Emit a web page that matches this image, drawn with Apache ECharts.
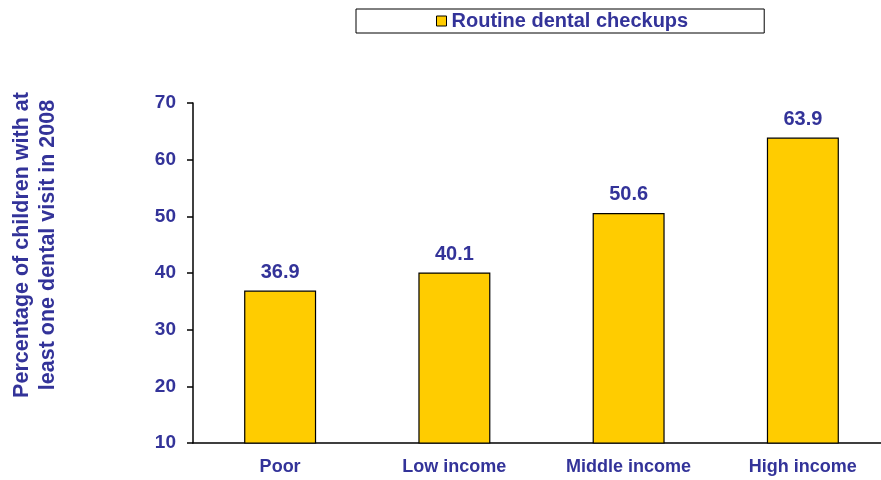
<!DOCTYPE html>
<html><head><meta charset="utf-8">
<script src="https://cdn.jsdelivr.net/npm/echarts@6/dist/echarts.min.js"></script>
<style>html,body{margin:0;padding:0;background:#fff}#c{width:881px;height:480px}</style>
</head><body><div id="c"></div>
<script>
const categories = ['Poor', 'Low income', 'Middle income', 'High income'];
const checkups = [36.9, 40.1, 50.6, 63.9];
const seriesName = 'Routine dental checkups';
const yTitle = 'Percentage of children with at\nleast one dental visit in 2008';
const C = '#333399';
const F = 'Liberation Sans, Arial, sans-serif';
const chart = echarts.init(document.getElementById('c'));
chart.setOption({
  animation: false,
  legend: {
    data: [seriesName], left: 356, top: 9,
    padding: [2, 76, 2, 80], borderColor: '#000', borderWidth: 1,
    itemWidth: 10, itemHeight: 10, itemGap: 5,
    icon: 'rect',
    itemStyle: {borderColor: '#000', borderWidth: 1},
    textStyle: {color: C, fontWeight: 'bold', fontSize: 20, fontFamily: F}
  },
  grid: {left: 193, top: 103, width: 697, height: 340, containLabel: false, outerBoundsMode: 'none'},
  xAxis: {
    type: 'category', data: categories,
    axisLine: {lineStyle: {color: '#000', width: 1.5}},
    axisTick: {show: false},
    axisLabel: {color: C, fontWeight: 'bold', fontSize: 18, fontFamily: F, margin: 15}
  },
  yAxis: {
    type: 'value', min: 10, max: 70, interval: 10,
    name: yTitle, nameLocation: 'middle', nameGap: 132, nameRotate: 90,
    nameTextStyle: {color: C, fontWeight: 'bold', fontSize: 21.5, fontFamily: F, lineHeight: 26, padding: [0, 0, 0, 56]},
    axisLine: {show: true, lineStyle: {color: '#000', width: 1.5}},
    axisTick: {show: true, inside: false, length: 6, lineStyle: {color: '#000', width: 1.5}},
    splitLine: {show: false},
    axisLabel: {color: C, fontWeight: 'bold', fontSize: 19, fontFamily: F, margin: 17}
  },
  series: [{
    name: seriesName, type: 'bar', data: checkups, barWidth: 72,
    itemStyle: {color: '#FFCC00', borderColor: '#000', borderWidth: 1.2},
    label: {show: true, position: 'top', distance: 8, color: C, fontWeight: 'bold', fontSize: 20, fontFamily: F, formatter: p => p.value.toFixed(1)}
  }]
});
</script></body></html>
